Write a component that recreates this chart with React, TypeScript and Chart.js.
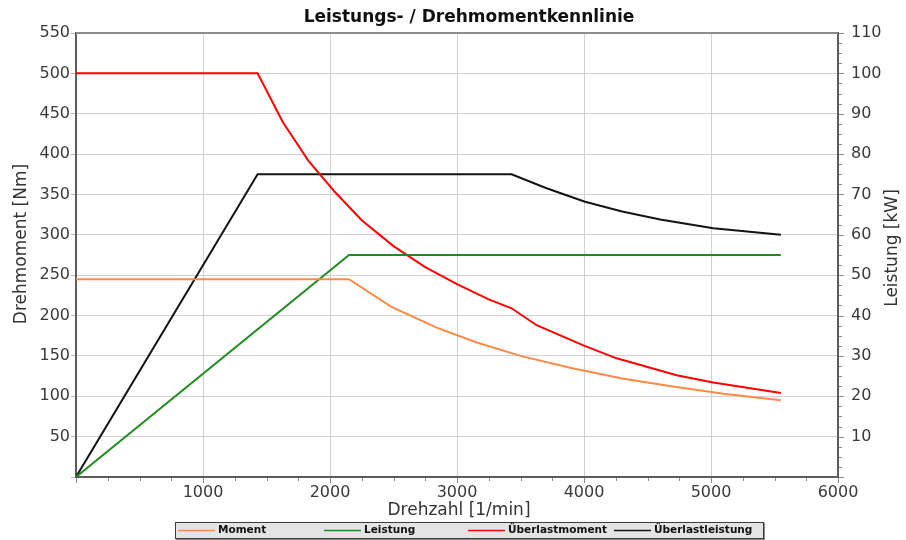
import React, { useEffect, useRef } from 'react';
import { Chart, registerables } from 'chart.js';

Chart.register(...registerables);

// ---- texts ----
const CHART_TITLE = 'Leistungs- / Drehmomentkennlinie';
const X_TITLE = 'Drehzahl [1/min]';
const Y_TITLE = 'Drehmoment [Nm]';
const Y1_TITLE = 'Leistung [kW]';

// ---- data ----
const seriesNames = ['Moment', 'Leistung', 'Überlastmoment', 'Überlastleistung'];

const momentRpm = [0, 2150, 2480, 2840, 3150, 3500, 3900, 4300, 4700, 5100, 5550];
const momentNm = [245, 245, 211, 185, 167, 150, 135, 122, 112, 103, 95];

const leistungRpm = [0, 2150, 5550];
const leistungKw = [0, 55, 55];

const ueberMomentRpm = [0, 1430, 1627, 1829, 2039, 2250, 2500, 2750, 3000, 3250, 3430, 3627, 3995, 4257, 4730, 5018, 5550];
const ueberMomentNm = [500, 500, 440, 392, 353, 318, 286, 260, 239, 220, 209, 188, 163, 147, 126, 117, 104];

const ueberLeistungRpm = [0, 1430, 3430, 3700, 4008, 4300, 4600, 5018, 5550];
const ueberLeistungKw = [0, 75, 75, 71.6, 68.2, 65.8, 63.8, 61.6, 60];

// ---- axis ranges ----
const X_MAX = 6000;
const X_STEP = 1000;
const X_MINOR = 250;
const Y_MAX = 550;
const Y_STEP = 50;
const Y1_MAX = 110;
const Y1_STEP = 10;
const Y1_MINOR = 2.5;

// ---- styles ----
const COLORS = ['#ff8a45', '#1f8c1f', '#ff0000', '#141414'];
const FONT = "'DejaVu Sans', 'Liberation Sans', Arial, sans-serif";
const GRID = '#d0d0d0';
const AXIS = '#5c5c5c';

const toPts = (xs: number[], ys: number[]) => xs.map((x, i) => ({ x, y: ys[i] }));

const decorPlugin = {
  id: 'decor',
  beforeDraw(chart: any) {
    const { ctx, width, height } = chart;
    ctx.save();
    ctx.fillStyle = '#ffffff';
    ctx.fillRect(0, 0, width, height);
    ctx.restore();
  },
  afterDraw(chart: any) {
    const { ctx, chartArea: ca, scales } = chart;
    ctx.save();
    // top frame line
    ctx.strokeStyle = '#8c8c8c';
    ctx.lineWidth = 2;
    ctx.beginPath();
    ctx.moveTo(ca.left, ca.top);
    ctx.lineTo(ca.right, ca.top);
    ctx.stroke();

    // minor ticks on x axis
    ctx.strokeStyle = '#8a8a8a';
    ctx.lineWidth = 1;
    for (let v = 0; v <= X_MAX; v += X_MINOR) {
      const px = Math.round(scales.x.getPixelForValue(v)) + 0.5;
      ctx.beginPath();
      ctx.moveTo(px, ca.bottom + 1);
      ctx.lineTo(px, ca.bottom + (v % X_STEP === 0 ? 6 : 4));
      ctx.stroke();
    }
    // minor ticks on right axis
    for (let v = 0; v <= Y1_MAX; v += Y1_MINOR) {
      const py = Math.round(scales.y1.getPixelForValue(v)) + 0.5;
      ctx.beginPath();
      ctx.moveTo(ca.right + 1, py);
      ctx.lineTo(ca.right + (v % Y1_STEP === 0 ? 6 : 4), py);
      ctx.stroke();
    }

    // chart title
    ctx.fillStyle = '#111';
    ctx.textAlign = 'center';
    ctx.textBaseline = 'middle';
    ctx.font = `bold 17px ${FONT}`;
    ctx.fillText(CHART_TITLE, 469, 18);

    // x axis title
    ctx.fillStyle = '#333';
    ctx.font = `17px ${FONT}`;
    ctx.fillText(X_TITLE, 459, 511);

    // left axis title
    ctx.save();
    ctx.translate(22, 244);
    ctx.rotate(-Math.PI / 2);
    ctx.fillText(Y_TITLE, 0, 0);
    ctx.restore();

    // right axis title (reads bottom-to-top)
    ctx.save();
    ctx.translate(893, 248);
    ctx.rotate(-Math.PI / 2);
    ctx.fillText(Y1_TITLE, 0, 0);
    ctx.restore();

    // legend box
    const bx = 175, by = 522, bw = 588, bh = 16;
    ctx.fillStyle = '#e4e4e4';
    ctx.fillRect(bx, by, bw, bh);
    ctx.strokeStyle = '#3c3c3c';
    ctx.lineWidth = 1;
    ctx.strokeRect(bx + 0.5, by + 0.5, bw, bh);
    ctx.strokeStyle = '#888';
    ctx.beginPath();
    ctx.moveTo(bx + bw + 1.5, by + 1);
    ctx.lineTo(bx + bw + 1.5, by + bh + 1.5);
    ctx.lineTo(bx + 1, by + bh + 1.5);
    ctx.stroke();

    ctx.font = `bold 10.5px ${FONT}`;
    ctx.textAlign = 'left';
    ctx.textBaseline = 'middle';
    const starts = [178, 324, 468, 614];
    seriesNames.forEach((name, i) => {
      const sx = starts[i];
      const cy = by + bh / 2 + 0.5;
      ctx.strokeStyle = COLORS[i];
      ctx.lineWidth = 1.5;
      ctx.beginPath();
      ctx.moveTo(sx, cy);
      ctx.lineTo(sx + 37, cy);
      ctx.stroke();
      ctx.fillStyle = '#111';
      ctx.fillText(name, sx + 40, cy);
    });
    ctx.restore();
  },
};

export default function App() {
  const ref = useRef<HTMLCanvasElement | null>(null);

  useEffect(() => {
    if (!ref.current) return;
    const tickFont = { family: FONT, size: 16 };
    const chart = new Chart(ref.current, {
      type: 'line',
      data: {
        datasets: [
          { label: seriesNames[0], data: toPts(momentRpm, momentNm), yAxisID: 'y', borderColor: COLORS[0], borderWidth: 2, pointRadius: 0, tension: 0, fill: false },
          { label: seriesNames[1], data: toPts(leistungRpm, leistungKw), yAxisID: 'y1', borderColor: COLORS[1], borderWidth: 2, pointRadius: 0, tension: 0, fill: false },
          { label: seriesNames[2], data: toPts(ueberMomentRpm, ueberMomentNm), yAxisID: 'y', borderColor: COLORS[2], borderWidth: 2, pointRadius: 0, tension: 0, fill: false },
          { label: seriesNames[3], data: toPts(ueberLeistungRpm, ueberLeistungKw), yAxisID: 'y1', borderColor: COLORS[3], borderWidth: 2, pointRadius: 0, tension: 0, fill: false },
        ],
      },
      options: {
        responsive: false,
        animation: false,
        devicePixelRatio: 1,
        layout: { padding: { top: 33, left: 0, right: 0, bottom: 0 } },
        plugins: {
          legend: { display: false },
          title: { display: false },
          tooltip: { enabled: false },
        },
        scales: {
          x: {
            type: 'linear',
            min: 0,
            max: X_MAX,
            afterFit: (s: any) => { s.height = 63; },
            grid: { color: GRID, lineWidth: 1, drawTicks: false },
            border: { color: AXIS, width: 2 },
            ticks: {
              stepSize: X_STEP,
              autoSkip: false,
              maxRotation: 0,
              padding: 6,
              color: '#3a3a3a',
              font: tickFont,
              callback: (v: any) => (v === 0 ? '' : String(v)),
            },
          },
          y: {
            type: 'linear',
            position: 'left',
            min: 0,
            max: Y_MAX,
            afterFit: (s: any) => { s.width = 76; },
            grid: { color: GRID, lineWidth: 1, tickLength: 5, tickColor: '#b8b8b8' },
            border: { color: AXIS, width: 2 },
            ticks: {
              stepSize: Y_STEP,
              padding: 1,
              color: '#3a3a3a',
              font: tickFont,
              callback: (v: any) => (v === 0 ? '' : String(v)),
            },
          },
          y1: {
            type: 'linear',
            position: 'right',
            min: 0,
            max: Y1_MAX,
            afterFit: (s: any) => { s.width = 68; },
            grid: { drawOnChartArea: false, drawTicks: false },
            border: { color: AXIS, width: 2 },
            ticks: {
              stepSize: Y1_STEP,
              padding: 13,
              color: '#3a3a3a',
              font: tickFont,
              callback: (v: any) => (v === 0 ? '' : String(v)),
            },
          },
        },
      },
      plugins: [decorPlugin],
    } as any);
    return () => chart.destroy();
  }, []);

  return (
    <div style={{ position: 'absolute', left: 0, top: 0, width: 906, height: 540 }}>
      <canvas ref={ref} width={906} height={540} style={{ display: 'block' }} />
    </div>
  );
}
